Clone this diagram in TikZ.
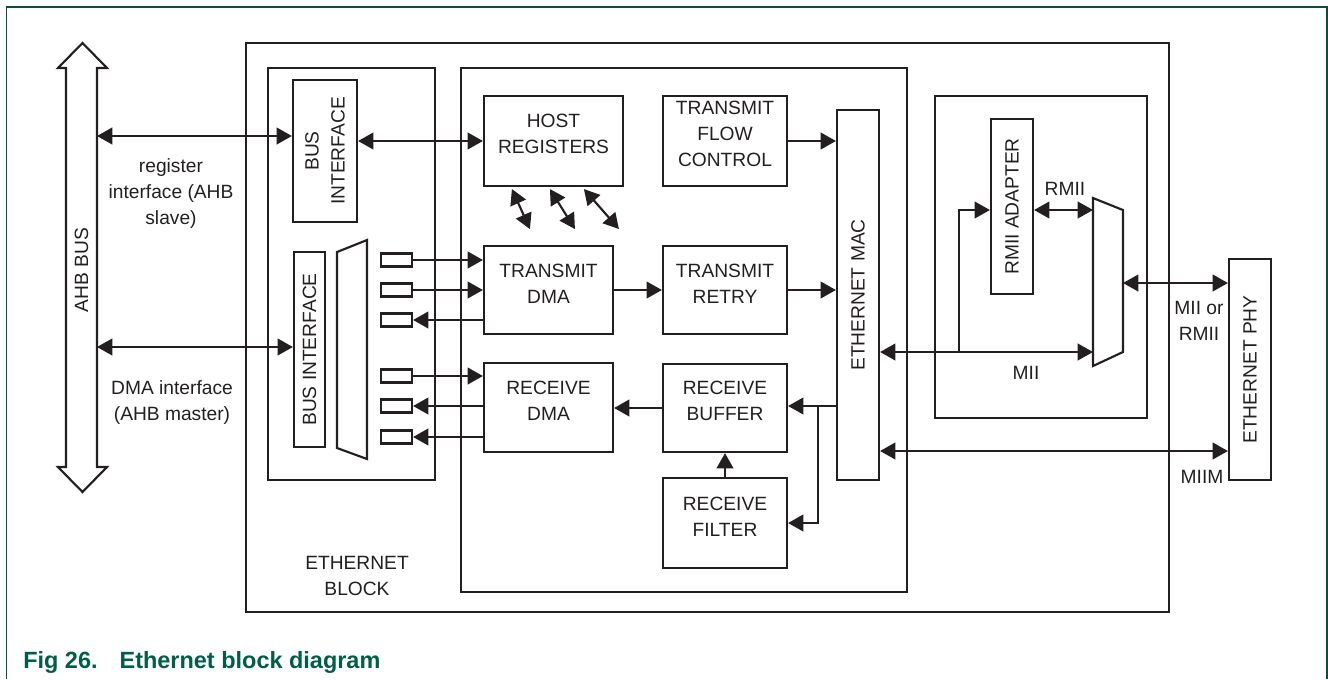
\documentclass[tikz,border=0pt]{standalone}
\usepackage{fontspec}
\setmainfont{Liberation Sans}
\usetikzlibrary{arrows.meta,calc,fit}
\definecolor{ink}{RGB}{35,31,32}
\definecolor{framegreen}{RGB}{10,78,60}
\definecolor{capgreen}{RGB}{0,94,72}
\newcommand\diaglbl{\fontsize{14.4}{19.5}\selectfont}
\tikzset{
  box/.style={draw=ink, line width=1.6pt, inner sep=0pt, align=center, font=\diaglbl, text=ink},
  lab/.style={align=center, font=\diaglbl, text=ink, inner sep=0pt},
  conn/.style={draw=ink, line width=1.6pt},
}
\begin{document}
\begin{tikzpicture}[x=0.75pt,y=-0.75pt,>={Triangle[length=11.5pt,width=12.5pt]}]
\useasboundingbox (0,0) rectangle (1328,679);
% frame
\draw[framegreen, line width=1.1pt] (6.5,679) -- (6.5,7) -- (1327,7) -- (1327,679);

% AHB bus
\draw[conn] (66,68) -- (58,68) -- (82.5,43) -- (107,68) -- (97,68) -- (97,467) -- (107,467) -- (82.5,492) -- (58,467) -- (66,467) -- cycle;
\node[lab, rotate=90] (ahbt) at (81.5,270) {AHB BUS};
\coordinate (ahbR1) at (97,136);
\coordinate (ahbR2) at (97,347);

% containers
\node[box, fit={(246,43) (1169,612)}] (eblock) {};
\node[box, fit={(268,68) (435,480)}] (lbox) {};
\node[box, fit={(461,68) (907,592)}] (mainbox) {};
\node[box, fit={(935,96) (1147,418)}] (rbox) {};

% left interface column
\node[box, rotate=90, minimum width=106.5pt, minimum height=48pt] (busif1) at (325,151) {BUS\\INTERFACE};
\node[box, rotate=90, minimum width=146.25pt, minimum height=23.25pt] (busif2) at (309.5,349.5) {BUS INTERFACE};
\draw[conn] (337,252) -- (367,240) -- (367,459) -- (337,448) -- cycle;
\foreach \n/\y in {1/260,2/290,3/320,4/376,5/406,6/437}
  \node[box, minimum width=23.25pt, minimum height=9.75pt] (r\n) at (396.5,\y) {};

% main blocks
\node[box, fit={(484,96) (623,186)}] (host) {HOST\\REGISTERS};
\node[box, fit={(663,96) (787,186)}] (txfc) {TRANSMIT\\FLOW\\CONTROL};
\node[box, fit={(484,246) (613,334)}] (txdma) {TRANSMIT\\DMA};
\node[box, fit={(663,246) (787,334)}] (txretry) {TRANSMIT\\RETRY};
\node[box, fit={(484,363) (613,452)}] (rxdma) {RECEIVE\\DMA};
\node[box, fit={(663,364) (787,452)}] (rxbuf) {RECEIVE\\BUFFER};
\node[box, fit={(663,478) (787,568)}] (rxfilt) {RECEIVE\\FILTER};
\node[box, rotate=90, minimum width=277.5pt, minimum height=31.5pt] (mac) at (858,295) {ETHERNET MAC};

% right side
\node[box, rotate=90, minimum width=131.25pt, minimum height=31.5pt] (rmii) at (1012,206.5) {RMII ADAPTER};
\draw[conn] (1093,198) -- (1123,210) -- (1123,352) -- (1093,366) -- cycle;
\coordinate (m2a) at (1093,210);
\coordinate (m2b) at (1093,352);
\coordinate (m2c) at (1123,283);
\node[box, rotate=90, minimum width=165.75pt, minimum height=31.5pt] (phy) at (1250,369.5) {ETHERNET PHY};

% AHB connections
\draw[conn,<->] (ahbR1) -- (ahbR1 -| busif1.north);
\draw[conn,<->] (ahbR2) -- (ahbR2 -| busif2.north);
\draw[conn,<->] (busif1.south |- host.west) -- (host.west);

% register / DMA channels
\draw[conn,->] (r1.east) -- (r1.east -| txdma.west);
\draw[conn,->] (r2.east) -- (r2.east -| txdma.west);
\draw[conn,<-] (r3.east) -- (r3.east -| txdma.west);
\draw[conn,->] (r4.east) -- (r4.east -| rxdma.west);
\draw[conn,<-] (r5.east) -- (r5.east -| rxdma.west);
\draw[conn,<-] (r6.east) -- (r6.east -| rxdma.west);

% host register diagonal links
\draw[conn,<->] ($(host.south west)+(29,2)$) -- ++(18,40);
\draw[conn,<->] ($(host.south west)+(67,2)$) -- ++(25,40);
\draw[conn,<->] ($(host.south west)+(101,2)$) -- ++(35,40);

% transmit path
\draw[conn,->] (txfc.east) -- (txfc.east -| mac.north);
\draw[conn,->] (txdma.east) -- (txretry.west);
\draw[conn,->] (txretry.east) -- (txretry.east -| mac.north);

% receive path
\coordinate (j1) at (818,406);
\draw[conn,->] (j1 -| mac.north) -- (j1 -| rxbuf.east);
\draw[conn,->] (j1) |- (rxfilt.east);
\draw[conn,->] (rxfilt.north) -- (rxbuf.south);
\draw[conn,->] (rxbuf.west) -- (rxbuf.west -| rxdma.east);

% MII / RMII
\coordinate (j2) at (959,352);
\draw[conn,<->] (mac.south |- m2b) -- (m2b);
\draw[conn,->] (j2) |- (m2a -| rmii.north);
\draw[conn,<->] (m2a -| rmii.south) -- (m2a);
\draw[conn,<->] (m2c) -- (m2c -| phy.north);
\coordinate (mi) at (1000,451);
\draw[conn,<->] (mi -| mac.south) -- (mi -| phy.north);

% labels
\node[lab] (lreg) at (171,194) {register\\interface (AHB\\slave)};
\node[lab] (ldma) at (172,403) {DMA interface\\(AHB master)};
\node[lab] (lblk) at (357,576) {ETHERNET\\BLOCK};
\node[lab] (lrmii) at (1065,189) {RMII};
\node[lab] (lmii) at (1026,373) {MII};
\node[lab] (lmr) at (1199,321) {MII or\\RMII};
\node[lab] (lmiim) at (1202,477) {MIIM};

% caption
\node[anchor=base west, inner sep=0pt, text=capgreen, font=\fontsize{17.6}{21}\selectfont\bfseries] (cap) at (23,668) {Fig 26.\hspace{16.5pt}Ethernet block diagram};
\end{tikzpicture}
\end{document}
